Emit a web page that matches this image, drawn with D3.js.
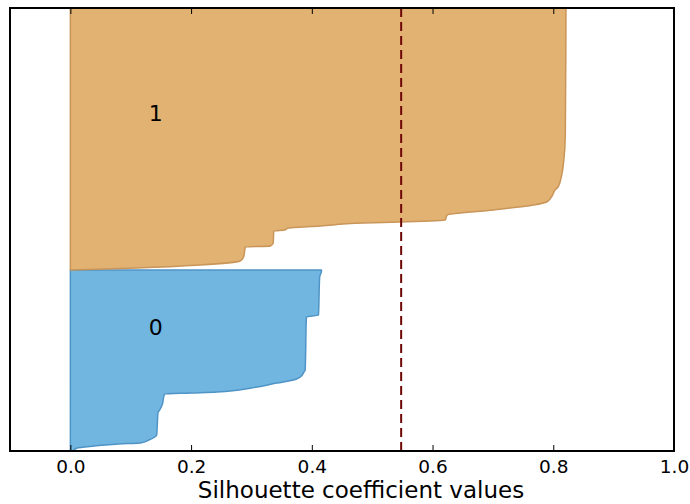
<!DOCTYPE html>
<html>
<head>
<meta charset="utf-8">
<script src="https://cdn.jsdelivr.net/npm/d3@7"></script>
<style>
  html, body { margin: 0; padding: 0; background: #fff; }
  svg { display: block; font-family: "DejaVu Sans", sans-serif; }
</style>
</head>
<body>
<svg id="chart" width="690" height="504"></svg>
<script>
// ---------------- data ----------------
const xTicks = [0.0, 0.2, 0.4, 0.6, 0.8, 1.0];
const xTickLabels = ["0.0", "0.2", "0.4", "0.6", "0.8", "1.0"];
const xLabel = "Silhouette coefficient values";
const avgSilhouette = 0.548;

const clusterNames = ["0", "1"];
const clusterSizes = [181, 262];

// sorted silhouette values of cluster 0 (index within cluster, value)
const cluster0Index = [0, 3, 5, 7, 8, 11, 16, 26, 38, 41, 46, 57, 58, 59, 63, 68, 71, 74, 79, 81, 134, 136, 174, 180, 181];
const cluster0Values = [0.005, 0.011, 0.04, 0.08, 0.116, 0.13, 0.143, 0.144, 0.145, 0.148, 0.152, 0.156, 0.2, 0.243, 0.3, 0.342, 0.37, 0.381, 0.387, 0.389, 0.391, 0.411, 0.413, 0.416, 0.416];

// sorted silhouette values of cluster 1
const cluster1Index = [0, 2, 5, 9, 13, 23, 24, 27, 39, 40, 42, 44, 47, 48, 50, 55, 60, 65, 68, 74, 80, 83, 95, 107, 137, 262];
const cluster1Values = [0.0, 0.110, 0.215, 0.281, 0.287, 0.290, 0.331, 0.336, 0.337, 0.355, 0.361, 0.414, 0.486, 0.546, 0.621, 0.624, 0.701, 0.767, 0.789, 0.798, 0.803, 0.808, 0.814, 0.817, 0.820, 0.821];

const clusterFill = ["#70b6e1", "#e2b273"];
const clusterEdge = ["#4f94c6", "#c99558"];
// where the cluster labels sit (x value, index within cluster)
const labelX = [0.13, 0.13];
const labelIdx = [124, 157];

// ---------------- layout ----------------
const svg = d3.select("#chart");
const L = 10, R = 674, T = 8, B = 451;

const x = d3.scaleLinear().domain([-0.1, 1.0]).range([L, R]);
const totalN = d3.sum(clusterSizes);
const y = d3.scaleLinear().domain([0, totalN]).range([B, T]);

svg.append("defs").append("clipPath").attr("id", "clip")
  .append("rect").attr("x", L).attr("y", T).attr("width", R - L).attr("height", B - T);

const g = svg.append("g").attr("clip-path", "url(#clip)");

const clusters = [
  { idx: cluster0Index, vals: cluster0Values },
  { idx: cluster1Index, vals: cluster1Values }
];

let yLower = 0;
clusters.forEach((c, ci) => {
  const pts = c.idx.map((k, i) => ({ k: yLower + k, v: c.vals[i] }));
  const area = d3.area()
    .y(d => y(d.k))
    .x0(x(0))
    .x1(d => x(d.v))
    .curve(d3.curveMonotoneY);
  g.append("path")
    .datum(pts)
    .attr("d", area)
    .attr("fill", clusterFill[ci])
    .attr("stroke", clusterEdge[ci])
    .attr("stroke-width", 1.5)
    .attr("stroke-linejoin", "round");

  svg.append("text")
    .attr("x", x(labelX[ci]))
    .attr("y", y(yLower + labelIdx[ci]))
    .attr("dominant-baseline", "central")
    .attr("font-size", 22)
    .attr("fill", "#000")
    .text(clusterNames[ci]);

  yLower += clusterSizes[ci];
});

// average silhouette line
svg.append("line")
  .attr("x1", x(avgSilhouette)).attr("x2", x(avgSilhouette))
  .attr("y1", T).attr("y2", B)
  .attr("stroke", "#6e0606")
  .attr("stroke-width", 2)
  .attr("stroke-dasharray", "9,5");

// axes (ticks inside, top & bottom)
const bottomAxis = d3.axisBottom(x).tickValues(xTicks).tickSize(-6).tickPadding(8)
  .tickFormat((d, i) => xTickLabels[i]);
const gb = svg.append("g").attr("transform", `translate(0,${B})`).call(bottomAxis);
gb.select(".domain").remove();
gb.selectAll(".tick line").attr("stroke", "#000").attr("stroke-width", 1);
gb.selectAll(".tick text")
  .attr("font-size", 18.5).attr("font-family", "DejaVu Sans").attr("fill", "#000")
  .attr("y", 21.5).attr("dy", 0);

const topAxis = d3.axisTop(x).tickValues(xTicks).tickSize(-6).tickFormat("");
const gt = svg.append("g").attr("transform", `translate(0,${T})`).call(topAxis);
gt.select(".domain").remove();
gt.selectAll(".tick line").attr("stroke", "#000").attr("stroke-width", 1);

// frame
svg.append("rect")
  .attr("x", L).attr("y", T).attr("width", R - L).attr("height", B - T)
  .attr("fill", "none").attr("stroke", "#000").attr("stroke-width", 2);

// x label
svg.append("text")
  .attr("x", 361).attr("y", 498.3)
  .attr("text-anchor", "middle")
  .attr("font-size", 23)
  .attr("fill", "#000")
  .text(xLabel);
</script>
</body>
</html>
